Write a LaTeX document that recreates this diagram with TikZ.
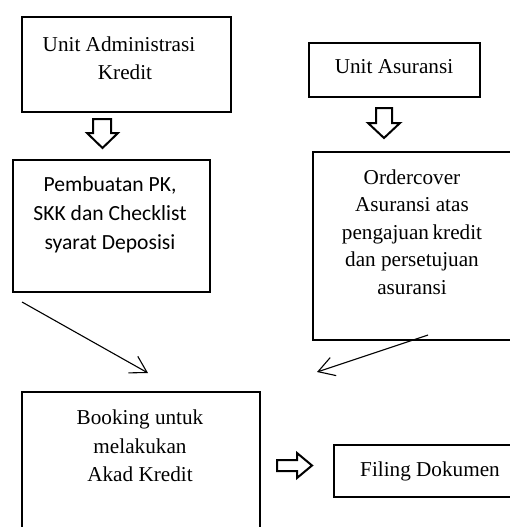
\documentclass[tikz,border=0pt]{standalone}
\usepackage{fontspec}
\setmainfont{Liberation Serif}
\newfontfamily\calibrifont{Carlito}
\usetikzlibrary{arrows.meta}
\tikzset{
  box/.style={draw=black, line width=2.1pt, rectangle, inner sep=0pt, anchor=north west},
  txt/.style={align=center, inner sep=0pt, font=\fontsize{21.2}{28.5}\selectfont},
  conn/.style={draw=black, line width=1.1pt, -{Straight Barb[length=16pt,width=19pt,line width=1.1pt]}},
  blockarrow/.style={draw=black, line width=2pt, line join=miter, fill=white}
}
\begin{document}
\begin{tikzpicture}[x=1pt,y=-1pt]
\useasboundingbox (0,0) rectangle (510,527);
\clip (0,0) rectangle (510,527);
% boxes
\node[box, minimum width=209pt, minimum height=95pt] (b1) at (21,16) {};
\node[box, minimum width=171pt, minimum height=54pt] (b2) at (308,42) {};
\node[box, minimum width=197pt, minimum height=132pt] (b3) at (12,159) {};
\node[box, minimum width=200pt, minimum height=188pt] (b4) at (312,151) {};
\node[box, minimum width=238pt, minimum height=150pt] (b5) at (21,391) {};
\node[box, minimum width=190pt, minimum height=52pt] (b6) at (333,444) {};
% texts
\node[txt] (t1) at (119,58) {Unit Administrasi\\\hspace*{12pt}Kredit};
\node[txt] (t2) at (394,67) {Unit Asuransi};
\node[txt, font=\calibrifont\fontsize{21.6}{29}\selectfont] (t3) at (110,215) {Pembuatan PK,\\SKK dan Checklist\\syarat Deposisi};
\node[txt, font=\fontsize{21.2}{27.5}\selectfont] (t4) at (412,232) {Ordercover\\Asuransi atas\\pengajuan\,kredit\\dan persetujuan\\asuransi};
\node[txt] (t5) at (140,446) {Booking untuk\\melakukan\\Akad Kredit};
\node[txt] (t6) at (430,471) {Filing Dokumen};
% hollow block arrows
\draw[blockarrow] (93,119) -- (111,119) -- (111,133) -- (118,133) -- (102.5,148) -- (87,133) -- (93,133) -- cycle;
\draw[blockarrow] (376,108) -- (392,108) -- (392,123) -- (400,123) -- (384,138) -- (368,123) -- (376,123) -- cycle;
\draw[blockarrow] (277,460) -- (297,460) -- (297,453) -- (312,465.5) -- (297,478) -- (297,471) -- (277,471) -- cycle;
% diagonal connectors
\coordinate (s1) at (22,302);
\coordinate (e1) at (148,373);
\coordinate (s2) at (428,335);
\coordinate (e2) at (317,372);
\draw[conn] (s1) -- (e1);
\draw[conn] (s2) -- (e2);
\end{tikzpicture}
\end{document}
